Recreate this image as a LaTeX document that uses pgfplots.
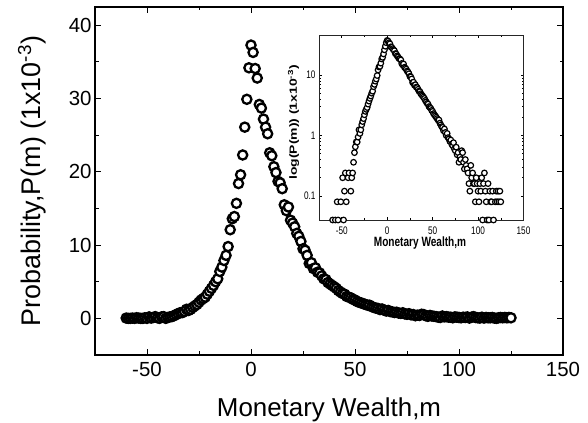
\documentclass[border=0pt]{standalone}
\usepackage{fontspec}
\setmainfont{Liberation Sans}
\newfontfamily\narrowfont[FakeStretch=0.75]{Liberation Sans}
\usepackage{graphicx}
\usepackage{pgfplots}
\usepackage{pgfplotstable}
\pgfplotsset{compat=1.18}

\pgfplotstableread{
m P
-60 0.04
-59 0
-58 0
-57 0.04
-56 0
-55 0.08
-54 0.04
-53 0
-52 0
-51 0.08
-50 0
-49 0.2
-48 0.04
-47 0.12
-46 0.24
-45 0.08
-44 0
-43 0.2
-42 0.24
-41 0
-40 0.12
-39 0.2
-38 0.24
-37 0.36
-36 0.52
-35 0.65
-34 0.78
-33 0.78
-32 0.94
-31 1.24
-30 1.08
-29 1.24
-28 1.5
-27 1.7
-26 1.9
-25 2.2
-24 2.5
-23 2.7
-22 2.9
-21 3.3
-20 3.7
-19 4.1
-18 4.5
-17 5.0
-16 5.4
-15 6.4
-14 7.0
-13 7.9
-12 8.6
-11 9.8
-10 12.1
-9 13.6
-8 13.9
-7 15.7
-6 18.4
-5 19.6
-4 22.3
-3 26.1
-2 29.9
-1 34.2
0 37.3
1 36.3
2 34.1
3 32.8
4 29.2
5 28.7
6 27.2
7 26.1
8 25.2
9 22.6
10 22.2
11 20.7
12 19.9
13 18.7
14 18.5
15 17.7
16 15.5
17 14.7
18 15.2
19 13.4
20 13.0
21 12.5
22 11.6
23 11.2
24 10.5
25 9.5
26 9.3
27 8.6
28 7.5
29 7.6
30 6.8
31 6.9
32 6.3
33 6.2
34 5.8
35 5.4
36 5.3
37 4.9
38 4.7
39 4.5
40 4.3
41 4.1
42 3.8
43 3.6
44 3.4
45 3.3
46 3.0
47 2.9
48 2.8
49 2.6
50 2.5
51 2.3
52 2.2
53 2.1
54 2.0
55 1.9
56 1.8
57 1.8
58 1.6
59 1.5
60 1.4
61 1.36
62 1.2
63 1.28
64 1.12
65 1.0
66 1.08
67 0.92
68 0.88
69 0.8
70 0.84
71 0.72
72 0.68
73 0.76
74 0.6
75 0.56
76 0.64
77 0.48
78 0.52
79 0.36
80 0.44
81 0.4
82 0.56
83 0.52
84 0.36
85 0.28
86 0.4
87 0.32
88 0.28
89 0.24
90 0.16
91 0.12
92 0.32
93 0.2
94 0.24
95 0.16
96 0.16
97 0.08
98 0.2
99 0.16
100 0.12
101 0.08
102 0.16
103 0.12
104 0.2
105 0.04
106 0.16
107 0.24
108 0.12
109 0.08
110 0.04
111 0.16
112 0.04
113 0.12
114 0.08
115 0.08
116 0.12
117 0.04
118 0
119 0.08
120 0.12
121 0.08
122 0.12
123 0.08
124 0.12
125 0.08
}\wealth

\begin{document}
\begin{tikzpicture}
\useasboundingbox (0,0) rectangle (588bp,423bp);
\begin{axis}[
  at={(95bp,68bp)}, anchor=south west, scale only axis,
  width=468bp, height=348bp,
  xmin=-75, xmax=150, ymin=-5, ymax=42.5,
  xtick={-50,0,50,100,150}, ytick={0,10,20,30,40},
  minor x tick num=1, minor y tick num=1,
  tick align=inside, major tick length=6bp, minor tick length=3.5bp,
  every tick/.style={black, line width=0.9bp},
  axis line style={line width=1.2bp},
  /pgf/number format/assume math mode=true,
  ticklabel style={font=\fontsize{20.5}{24}\selectfont},
  xticklabel style={yshift=-3.3bp},
  xlabel={Monetary Wealth,m},
  ylabel={Probability,P(m) (1x10\textsuperscript{-3})},
  xlabel style={font=\fontsize{26}{30}\selectfont, at={(axis description cs:0.5,-0.178)}, anchor=base},
  ylabel style={font=\fontsize{27}{30}\selectfont, at={(axis description cs:-0.1175,0.5)}, anchor=base},
]
\addplot[only marks, mark=*, mark size=4.6bp, mark options={draw=black, fill=white, line width=2.3bp}] table[x=m,y=P] {\wealth};
\end{axis}
\begin{axis}[
  at={(319bp,203bp)}, anchor=south west, scale only axis,
  width=204.5bp, height=184.5bp,
  xmin=-75, xmax=150, ymode=log, ymin=0.04, ymax=45,
  xtick={-50,0,50,100,150}, ytick={0.1,1,10}, minor x tick num=1,
  log ticks with fixed point,
  tick align=inside, major tick length=3bp, minor tick length=1.6bp,
  every tick/.style={black, line width=0.5bp},
  axis line style={line width=0.7bp, black!85},
  /pgf/number format/assume math mode=true,
  ticklabel style={font=\narrowfont\fontsize{11}{12}\selectfont},
  xticklabel style={yshift=-3bp},
  xlabel={Monetary Wealth,m},
  xlabel style={font=\narrowfont\bfseries\fontsize{13.5}{14}\selectfont, at={(axis description cs:0.494,-0.146)}, anchor=base},
  ylabel={\scalebox{1}[0.75]{log(P(m)) (1x10\textsuperscript{-3})}},
  ylabel style={font=\bfseries\fontsize{14}{16}\selectfont, at={(axis description cs:-0.108,0.528)}, anchor=base},
  axis background/.style={fill=white},
]
\addplot[only marks, mark=*, mark size=2.8bp, mark options={draw=black, fill=white, line width=1.2bp}] table[x=m,y=P] {\wealth};
\end{axis}
\end{tikzpicture}
\end{document}
